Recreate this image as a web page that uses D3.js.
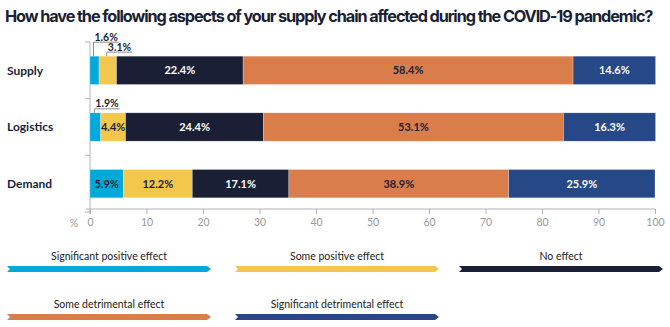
<!DOCTYPE html>
<html>
<head>
<meta charset="utf-8">
<script src="https://cdn.jsdelivr.net/npm/d3@7"></script>
<style>
  body { margin: 0; background: #fff; }
  svg { display: block; }
</style>
</head>
<body>
<script>
const categories = ['Supply', 'Logistics', 'Demand'];
const seriesNames = ['Significant positive effect', 'Some positive effect', 'No effect', 'Some detrimental effect', 'Significant detrimental effect'];
const supplyValues = [1.6, 3.1, 22.4, 58.4, 14.6];
const logisticsValues = [1.9, 4.4, 24.4, 53.1, 16.3];
const demandValues = [5.9, 12.2, 17.1, 38.9, 25.9];
const xTicks = [0, 10, 20, 30, 40, 50, 60, 70, 80, 90, 100];

const colors = ['#00a9d9', '#f3c74c', '#1a1f36', '#d97d4b', '#264886'];
const labelColors = ['#1a1f36', '#1a1f36', '#ffffff', '#1a1f36', '#ffffff'];

const width = 670, height = 327;
const rows = [supplyValues, logisticsValues, demandValues];

const svg = d3.select('body').append('svg')
    .attr('width', width)
    .attr('height', height);

// title - fit to 655px by tightening letter spacing, then font size
const titleText = 'How have the following aspects of your supply chain affected during the COVID-19 pandemic?';
const title = svg.append('text')
    .attr('x', 5)
    .attr('y', 22)
    .style('font-family', 'Inter, sans-serif')
    .style('font-weight', 700)
    .style('font-size', '17.5px')
    .attr('fill', '#1a1f36')
    .text(titleText);
let tw = title.node().getComputedTextLength();
let ls = Math.max(-1.1, (655 - tw) / titleText.length);
title.style('letter-spacing', ls + 'px');
tw = title.node().getComputedTextLength();
if (tw > 655) {
    title.style('font-size', (17.5 * 655 / tw).toFixed(2) + 'px');
}

const x = d3.scaleLinear().domain([0, 100]).range([90, 655]);
const y = d3.scaleBand().domain(categories).range([42, 212]).paddingInner(0.5).paddingOuter(0.25);

// axes
const axisColor = '#b3b3b3';
const xAxis = svg.append('g')
    .attr('transform', 'translate(0,209)')
    .call(d3.axisBottom(x).tickValues(xTicks).tickSize(5).tickSizeOuter(0).tickPadding(5));
xAxis.select('.domain').remove();
xAxis.append('line').attr('x1', 86).attr('x2', x(100)).attr('stroke', axisColor);
xAxis.selectAll('.tick line').attr('stroke', axisColor);
xAxis.selectAll('.tick text')
    .attr('fill', '#9a9a9a')
    .style('font-family', 'Lato, sans-serif')
    .style('font-size', '10.5px');
svg.append('text')
    .attr('x', 74).attr('y', 227)
    .attr('text-anchor', 'middle')
    .attr('fill', '#9a9a9a')
    .style('font-family', 'Lato, sans-serif')
    .style('font-size', '10.5px')
    .text('%');

svg.append('line')
    .attr('x1', x(0)).attr('x2', x(0))
    .attr('y1', 42).attr('y2', 214)
    .attr('stroke', axisColor);
const step = y.step();
const boundaries = categories.map(c => y(c) - y.paddingOuter() * step)
    .concat([y(categories[categories.length - 1]) + y.bandwidth() + y.paddingOuter() * step]);
svg.selectAll('.ytick').data(boundaries).enter().append('line')
    .attr('class', 'ytick')
    .attr('x1', x(0) - 5).attr('x2', x(0))
    .attr('y1', d => d).attr('y2', d => d)
    .attr('stroke', axisColor);

// category labels
svg.selectAll('.cat').data(categories).enter().append('text')
    .attr('class', 'cat')
    .attr('x', 7)
    .attr('y', d => y(d) + y.bandwidth() / 2)
    .attr('dy', '0.35em')
    .attr('fill', '#1a1f36')
    .style('font-family', 'Lato, sans-serif')
    .style('font-weight', 700)
    .style('font-size', '12px')
    .text(d => d);

// stacked bars
rows.forEach((vals, r) => {
    const cat = categories[r];
    let acc = 0;
    const segs = vals.map((v, i) => {
        const s = { v, i, x0: acc, x1: acc + v };
        acc += v;
        return s;
    });
    const g = svg.append('g');
    g.selectAll('rect').data(segs).enter().append('rect')
        .attr('x', d => x(d.x0))
        .attr('y', y(cat))
        .attr('width', d => x(d.x1) - x(d.x0))
        .attr('height', y.bandwidth())
        .attr('fill', d => colors[d.i])
        .attr('stroke', '#ffffff')
        .attr('stroke-opacity', 0.5)
        .attr('stroke-width', 0.5);

    const inside = segs.filter(d => d.v >= 4);
    g.selectAll('.lbl').data(inside).enter().append('text')
        .attr('x', d => (x(d.x0) + x(d.x1)) / 2)
        .attr('y', y(cat) + y.bandwidth() / 2)
        .attr('dy', '0.35em')
        .attr('text-anchor', 'middle')
        .attr('fill', d => labelColors[d.i])
        .style('font-family', 'Lato, sans-serif')
        .style('font-weight', 700)
        .style('font-size', '11px')
        .text(d => d.v.toFixed(1) + '%');

    // callouts for small segments
    const small = segs.filter(d => d.v < 4);
    small.forEach((d, k) => {
        const lx = (x(d.x0) + x(d.x1)) / 2 - 1;
        const ly = y(cat) - 4 - 10 * (small.length - 1 - k);
        const t = g.append('text')
            .attr('x', lx + 1)
            .attr('y', ly - 1.5)
            .attr('fill', '#1a1f36')
            .style('font-family', 'Lato, sans-serif')
            .style('font-weight', 700)
            .style('font-size', '10.5px')
            .text(d.v.toFixed(1) + '%');
        const w = t.node().getComputedTextLength();
        g.append('path')
            .attr('d', `M${lx},${y(cat)}V${ly}H${lx + w + 2}`)
            .attr('fill', 'none')
            .attr('stroke', '#8a8a8a')
            .attr('stroke-width', 1);
    });
});

// legend
const legendPos = [[7, 266], [235, 266], [459, 266], [7, 314], [235, 314]];
const legW = 204, legH = 6;
const leg = svg.selectAll('.leg').data(seriesNames).enter().append('g')
    .attr('class', 'leg')
    .attr('transform', (d, i) => `translate(${legendPos[i][0]},${legendPos[i][1]})`);
leg.append('path')
    .attr('d', `M0,0H${legW - 4}L${legW},${legH / 2}L${legW - 4},${legH}H0L3,${legH / 2}Z`)
    .attr('fill', (d, i) => colors[i]);
leg.append('text')
    .attr('x', legW / 2)
    .attr('y', -6)
    .attr('text-anchor', 'middle')
    .attr('fill', '#222')
    .style('font-family', 'Lato, sans-serif')
    .style('font-size', '10.5px')
    .text(d => d);
</script>
</body>
</html>
